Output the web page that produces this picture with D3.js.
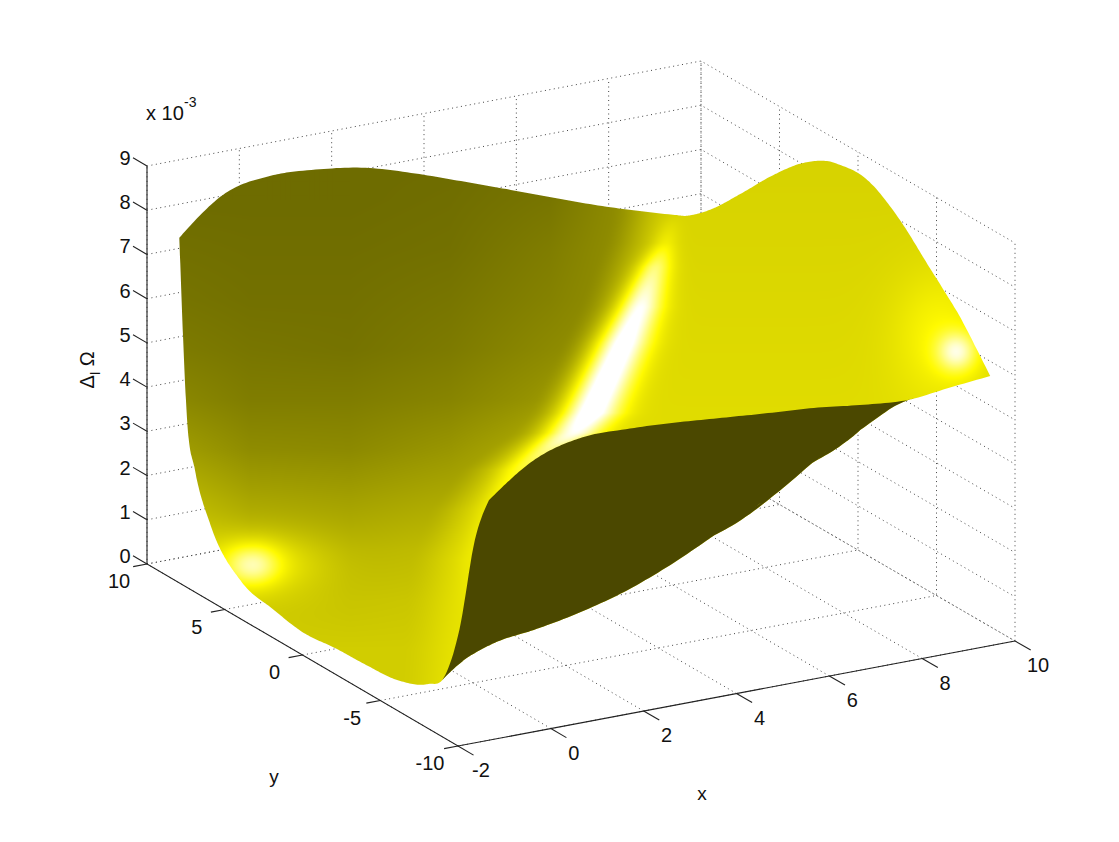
<!DOCTYPE html>
<html><head><meta charset="utf-8">
<script src="https://cdn.jsdelivr.net/npm/d3@7"></script>
<style>html,body{margin:0;background:#fff}svg{display:block}text{font-family:"Liberation Sans",Arial,sans-serif;fill:#111}</style>
</head><body><svg id="c" width="1119" height="842"></svg>
<script>
// ---- data ----
const xNodes=[-1.3,-0.3,0.7,1.7,2.7,3.7,4.7,5.7,6.7,7.7,8.7,9.5];
const yNodes=[10,9.5,9,8,6,4,2,0,-2,-4,-6,-7,-8,-9,-9.9];
const zAtX=[
[7.24,3.22,2.2,1.16,0.28,0.08,-0.05,0.02,0.05,0.12,0.44,0.79,2.08,4.32,5.4],
[8.05,6.6,5.6,4.2,2.5,1.5,0.95,0.65,0.55,0.65,0.94,1.5,2.6,4.5,6.13],
[8.25,7.6,7.0,6.0,4.5,3.3,2.4,1.8,1.45,1.3,1.25,1.55,2.6,4.4,6.42],
[8.19,7.7,7.2,6.4,5.1,4.0,3.1,2.4,1.95,1.7,1.45,1.75,2.8,4.6,6.42],
[8.03,7.65,7.3,6.6,5.5,4.6,3.7,3.0,2.4,2.0,1.7,2.05,3.1,4.7,6.36],
[7.72,7.4,7.15,6.65,5.8,5.0,4.3,3.6,3.0,2.4,2.07,2.46,3.3,4.8,6.27],
[7.35,7.1,6.95,6.6,6.0,5.4,4.8,4.2,3.6,3.0,2.55,2.95,3.41,4.8,6.18],
[6.97,6.85,6.75,6.5,6.1,5.7,5.3,4.85,4.4,3.8,3.1,3.48,3.96,5.0,6.1],
[6.58,6.5,6.4,6.3,6.1,5.9,5.65,5.4,5.0,4.5,3.72,4.11,4.61,5.07,5.97],
[6.2,6.05,5.95,5.85,5.95,6.1,6.1,5.95,5.6,5.0,4.35,4.67,5.15,5.54,5.88],
[5.86,5.72,5.65,5.72,6.2,6.7,7.05,7.25,7.05,6.7,6.45,6.3,6.15,6.05,5.99],
[5.61,5.7,5.83,6.14,6.92,7.74,8.44,8.85,8.9,8.46,7.74,7.38,7.0,6.52,6.07]];
const xTicks=[-2,0,2,4,6,8,10];
const yTicks=[-10,-5,0,5,10];
const zTicks=[0,1,2,3,4,5,6,7,8,9];
// brightness of the upper face, sampled across the picture
const shadeCols=[150,250,350,450,550,650];
const shadeRows=[150,200,250,300,350,400,450,500,550,600,650,700];
const shadeTable=[
[.43,.43,.43,.43,.45,.55],[.43,.43,.43,.44,.47,.6],[.45,.44,.44,.45,.5,.6],
[.47,.45,.45,.47,.52,.6],[.5,.47,.46,.49,.55,.6],[.56,.5,.5,.53,.6,.6],
[.66,.56,.55,.6,.7,.7],[.78,.66,.64,.68,.75,.75],[.88,.74,.72,.76,.8,.8],
[.85,.8,.78,.8,.82,.82],[.82,.82,.82,.82,.82,.82],[.82,.82,.82,.82,.82,.82]];
const ridgeRows=[216,243,267,307,343,377,413,433,448,470,510,560,620,700];
const ridgeCols=[672,665,655,640,623,607,590,573,550,520,490,470,465,460];
const ridgeGain=[0,.1,.3,.47,.53,.54,.54,.44,.3,.16,.05,.03,0,0];
const ridgeWide=[8,9,12,16,19,20,21,20,17,14,10,8,8,8];
const glows=[[252,565,19,15,.3],[262,562,45,22,.18],[957,352,14,14,.33],[940,335,32,45,.12]];
const darkFace="#4b4800", rightFace=.85;

// ---- projection ----
const ox=458,oy=746;
const xToX=d3.scaleLinear([-2,10],[0,557]), xToY=d3.scaleLinear([-2,10],[0,-105]);
const yToX=d3.scaleLinear([-10,10],[0,-311]), yToY=d3.scaleLinear([-10,10],[0,-182]);
const zToY=d3.scaleLinear([0,9],[0,-398]);
const P=(x,y,z)=>[ox+xToX(x)+yToX(y)-3*(x+2)/12*(y+10)/20, oy+xToY(x)+yToY(y)+zToY(z)];

// smooth cubic through read values (only used to smooth the drawn sheet)
function cubic(xs,ys){
  const n=xs.length,h=[],d=[],m=new Array(n);
  for(let i=0;i<n-1;i++){h[i]=xs[i+1]-xs[i];d[i]=(ys[i+1]-ys[i])/h[i];}
  for(let i=1;i<n-1;i++){
    const p=(d[i-1]*h[i]+d[i]*h[i-1])/(h[i-1]+h[i]);
    if(d[i-1]*d[i]>0){const lim=3*Math.min(Math.abs(d[i-1]),Math.abs(d[i]));m[i]=Math.sign(p)*Math.min(Math.abs(p),lim);}
    else m[i]=p;
  }
  m[0]=(3*d[0]-m[1])/2;m[n-1]=(3*d[n-2]-m[n-2])/2;
  return t=>{
    let i=0;while(i<n-2&&t>xs[i+1])i++;
    const hh=h[i],u=(t-xs[i])/hh,u2=u*u,u3=u2*u;
    return (2*u3-3*u2+1)*ys[i]+(u3-2*u2+u)*hh*m[i]+(-2*u3+3*u2)*ys[i+1]+(u3-u2)*hh*m[i+1];
  };
}
const lin=(xs,ys)=>d3.scaleLinear(xs,ys).clamp(true);
const ridgeX=lin(ridgeRows,ridgeCols),ridgeA=lin(ridgeRows,ridgeGain),ridgeW=lin(ridgeRows,ridgeWide);
const sstep=(a,b,v)=>{const t=Math.max(0,Math.min(1,(v-a)/(b-a)));return t*t*(3-2*t);};
function tableShade(X,Y){
  const c=Math.max(0,Math.min(shadeCols.length-1.001,(X-shadeCols[0])/100));
  const r=Math.max(0,Math.min(shadeRows.length-1.001,(Y-shadeRows[0])/50));
  const i=Math.floor(c),j=Math.floor(r),u=c-i,w=r-j;
  return (shadeTable[j][i]*(1-u)+shadeTable[j][i+1]*u)*(1-w)+(shadeTable[j+1][i]*(1-u)+shadeTable[j+1][i+1]*u)*w;
}
function shade(X,Y){
  const dx=X-ridgeX(Y);
  const t=sstep(-62,6,dx);
  let v=tableShade(X,Y)*(1-t)+(rightFace+(Y-220)*.00015)*t;
  const g=ridgeW(Y);
  v+=ridgeA(Y)*Math.exp(-(dx*dx)/(2*g*g));
  for(const [cx,cy,rx,ry,a] of glows){
    const q=((X-cx)/rx)**2+((Y-cy)/ry)**2;
    v+=a*Math.exp(-q/2);
  }
  return v;
}

// ---- fine sheet ----
const fineY=[];
for(let i=0;i<yNodes.length-1;i++){
  const a=yNodes[i],b=yNodes[i+1],span=a-b,step=i<2?.02:(i<4?.05:.1),n=Math.round(span/step);
  for(let k=0;k<n;k++)fineY.push(a-span*k/n);
}
fineY.push(yNodes[yNodes.length-1]);
const colFns=zAtX.map(col=>cubic(yNodes.map(v=>-v),col));
const fineX=[];
for(let x=xNodes[0];x<xNodes[xNodes.length-1];x+=(x<1?.04:.09))fineX.push(x);
fineX.push(xNodes[xNodes.length-1]);
const sheet=fineY.map(y=>{
  const across=cubic(xNodes,colFns.map(f=>f(-y)));
  return fineX.map(x=>P(x,y,across(x)));
});
let litPath="",darkPath="";
const fmt=p=>p[0].toFixed(1)+","+p[1].toFixed(1);
for(let j=0;j<fineY.length-1;j++){
  for(let i=fineX.length-2;i>=0;i--){
    const a=sheet[j][i],b=sheet[j][i+1],c=sheet[j+1][i+1],d=sheet[j+1][i];
    const cross=(b[0]-a[0])*(d[1]-a[1])-(b[1]-a[1])*(d[0]-a[0]);
    const q=cross>=0?[a,b,c,d]:[d,c,b,a];
    const s="M"+q.map(fmt).join("L")+"Z";
    if(cross<0&&fineY[j]<0)darkPath+=s; else litPath+=s;
  }
}

// ---- shaded raster of the upper face ----
const W=1119,H=842;
const cv=document.createElement("canvas");cv.width=W;cv.height=H;
const cx2=cv.getContext("2d"),img=cx2.createImageData(W,H);
for(let Y=0;Y<H;Y++)for(let X=0;X<W;X++){
  const k=(Y*W+X)*4;
  if(X<170||X>1000||Y<150||Y>700){continue;}
  const v=shade(X+.5,Y+.5),c=Math.min(1,v),bl=Math.max(0,Math.min(1,(v-1)/.33));
  img.data[k]=255*c;img.data[k+1]=250*c+5*bl;img.data[k+2]=255*bl;img.data[k+3]=255;
}
cx2.putImageData(img,0,0);

// ---- drawing ----
const svg=d3.select("#c");
const line=d3.line();
const grid=svg.append("g").attr("fill","none").attr("stroke","#444").attr("stroke-width",1).attr("stroke-dasharray","1 3.5");
const seg=(g,pts)=>g.append("path").attr("d",line(pts));
xTicks.forEach(x=>seg(grid,[P(x,-10,0),P(x,10,0),P(x,10,9)]));
yTicks.forEach(y=>seg(grid,[P(-2,y,0),P(10,y,0),P(10,y,9)]));
zTicks.forEach(z=>seg(grid,[P(-2,10,z),P(10,10,z),P(10,-10,z)]));

svg.append("clipPath").attr("id","lit").append("path").attr("d",litPath);
svg.append("image").attr("href",cv.toDataURL("image/png")).attr("width",W).attr("height",H).attr("clip-path","url(#lit)");
svg.append("path").attr("d",darkPath).attr("fill",darkFace);

const ax=svg.append("g").attr("fill","none").attr("stroke","#222").attr("stroke-width",1.1);
seg(ax,[P(-2,10,9),P(-2,10,0),P(-2,-10,0),P(10,-10,0)]);
xTicks.forEach(x=>seg(ax,[P(x,-10,0),P(x,-11,0)]));
yTicks.forEach(y=>seg(ax,[P(-2,y,0),P(-2.3,y,0)]));
zTicks.forEach(z=>seg(ax,[P(-2,10,z),P(-2,10.9,z)]));

const T=(t,x,y,size=20,anchor="middle")=>svg.append("text").attr("x",x).attr("y",y).attr("font-size",size).attr("text-anchor",anchor).text(t);
xTicks.forEach(x=>{const p=P(x,-10,0);T(x,p[0]+23,p[1]+31);});
yTicks.forEach(y=>{const p=P(-2,y,0);T(y,p[0]-28,p[1]+24);});
zTicks.forEach(z=>{const p=P(-2,10,z);T(z,p[0]-22,p[1]-1);});
T("x 10",146,120,20,"start");
T("-3",184,107,14,"start");
T("x",702,800,19);
T("y",274,783,19);
const lab=svg.append("g").attr("transform","translate(94,370) rotate(-90)");
lab.append("text").attr("text-anchor","middle").attr("font-size",20).attr("font-family","DejaVu Sans")
  .html('Δ<tspan font-size="14" dy="6">I</tspan><tspan dy="-6" dx="5">Ω</tspan>');
</script></body></html>
